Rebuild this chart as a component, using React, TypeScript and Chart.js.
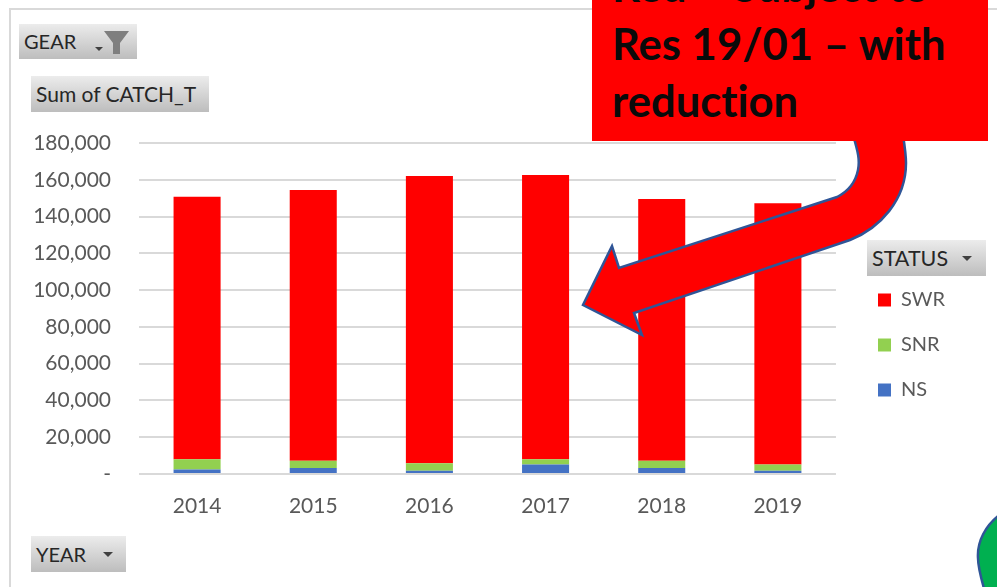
import React, { useEffect, useRef } from "react";
import { Chart, registerables } from "chart.js";

Chart.register(...registerables);

const years = ["2014", "2015", "2016", "2017", "2018", "2019"];
const swrValues = [142800, 147200, 156200, 154600, 142300, 142100];
const snrValues = [5500, 4000, 4100, 2800, 4000, 3500];
const nsValues = [2500, 3200, 1700, 5200, 3200, 1700];
const calloutLines = ["Red – Subject to", "Res 19/01 – with", "reduction"];

const FONT = "Lato, 'Open Sans', sans-serif";

const placeLegend = {
  id: "placeLegend",
  afterLayout(chart: any) {
    const l = chart.legend;
    if (!l) return;
    const w = l.width;
    l.left = 853;
    l.right = 853 + w;
    l.top = 265;
    l.bottom = 265 + 160;
  },
};

function Pill({ x, y, w, h, label, arrow, arrowY, arrowW, filter, size }: any) {
  const aw = arrowW || 10;
  return (
    <div
      style={{
        position: "absolute",
        left: x,
        top: y,
        width: w,
        height: h,
        background: "linear-gradient(#ececec, #bdbdbd)",
        color: "#262626",
        font: `${size || 20}px ${FONT}`,
        lineHeight: `${h}px`,
        paddingLeft: 5,
        boxSizing: "border-box",
        whiteSpace: "nowrap",
      }}
    >
      {label}
      {arrow && (
        <svg style={{ position: "absolute", left: arrow, top: arrowY ?? h / 2 - 2 }} width="12" height="8">
          <path d={`M0 0 L${aw} 0 L${aw / 2} ${aw / 2} Z`} fill="#404040" />
        </svg>
      )}
      {filter && (
        <svg style={{ position: "absolute", left: 85, top: 6 }} width="26" height="25">
          <path d="M0 1 L25 1 L16 13 L16 24 L9 24 L9 13 Z" fill="#7f7f7f" />
        </svg>
      )}
    </div>
  );
}

export default function App() {
  const ref = useRef<HTMLCanvasElement>(null);
  useEffect(() => {
    const chart = new Chart(ref.current!, {
      type: "bar",
      data: {
        labels: years,
        datasets: [
          { label: "NS", data: nsValues, backgroundColor: "#4472c4" },
          { label: "SNR", data: snrValues, backgroundColor: "#92d050" },
          { label: "SWR", data: swrValues, backgroundColor: "#ff0000" },
        ],
      },
      plugins: [placeLegend],
      options: {
        animation: false,
        responsive: false,
        layout: { padding: { top: 143, right: 59, left: 0, bottom: 0 } },
        datasets: { bar: { barPercentage: 0.405, categoryPercentage: 1 } },
        plugins: {
          tooltip: { enabled: false },
          legend: {
            display: true,
            position: "right",
            align: "start",
            reverse: true,
            labels: {
              boxWidth: 13,
              boxHeight: 13,
              padding: 25,
              color: "#595959",
              font: { family: FONT, size: 20 },
            },
          },
        },
        scales: {
          x: {
            stacked: true,
            afterFit: (s: any) => {
              s.height = 113;
            },
            grid: { display: false },
            border: { display: false },
            ticks: { color: "#595959", padding: 12, font: { family: FONT, size: 21 } },
          },
          y: {
            stacked: true,
            min: 0,
            max: 180000,
            afterFit: (s: any) => {
              s.width = 139;
            },
            grid: { color: "#d9d9d9", lineWidth: 2, drawTicks: false },
            border: { display: false },
            ticks: {
              stepSize: 20000,
              padding: 28,
              color: "#595959",
              font: { family: FONT, size: 21 },
              callback: (v: any) => (v === 0 ? "-" : Number(v).toLocaleString("en-US")),
            },
          },
        },
      } as any,
    });
    return () => chart.destroy();
  }, []);

  return (
    <div style={{ position: "fixed", left: 0, top: 0, width: 997, height: 587, overflow: "hidden", background: "#fff" }}>
      <div style={{ position: "absolute", left: 9, top: 8, width: 988, height: 2, background: "#d9d9d9" }} />
      <div style={{ position: "absolute", left: 9, top: 8, width: 2, height: 579, background: "#d9d9d9" }} />
      <canvas ref={ref} width={997} height={587} style={{ position: "absolute", left: 0, top: 0, display: "block" }} />
      <Pill x={19} y={24} w={118} h={35} label="GEAR" arrow={76} arrowY={23} arrowW={8} filter />
      <Pill x={31} y={76} w={178} h={36} label="Sum of CATCH_T" size={21} />
      <Pill x={31} y={536} w={95} h={36} label="YEAR" arrow={72} />
      <Pill x={867} y={240} w={119} h={36} label="STATUS" arrow={95} size={21.5} />
      <svg style={{ position: "absolute", left: 0, top: 0 }} width="997" height="587">
        <path
          d="M853 135 C858 152 860 160 858 170 C855 185 845 193 837 197 L619 268 L612 246 L583 305 L642 335 L634 313 L850 240 C880 228 906 200 906 163 C906 155 905 148 903 135"
          fill="#ff0000"
          stroke="#2f5597"
          strokeWidth="2.5"
        />
        <path
          d="M1002 513 C985 525 977 542 978 558 C978 568 981 578 985 592 L1002 592 Z"
          fill="#00b050"
          stroke="#2f5597"
          strokeWidth="2.5"
        />
      </svg>
      <div
        style={{
          position: "absolute",
          left: 592,
          top: 0,
          width: 396,
          height: 141,
          background: "#ff0000",
          overflow: "hidden",
        }}
      >
        {calloutLines.map((t, i) => (
          <div
            key={t}
            style={{
              position: "absolute",
              left: 20,
              top: -43 + i * 57.5,
              font: `bold 43.6px ${FONT}`,
              fontVariantLigatures: "none",
              lineHeight: "57px",
              color: "#0a0a0a",
              whiteSpace: "nowrap",
            }}
          >
            {t}
          </div>
        ))}
      </div>
    </div>
  );
}
